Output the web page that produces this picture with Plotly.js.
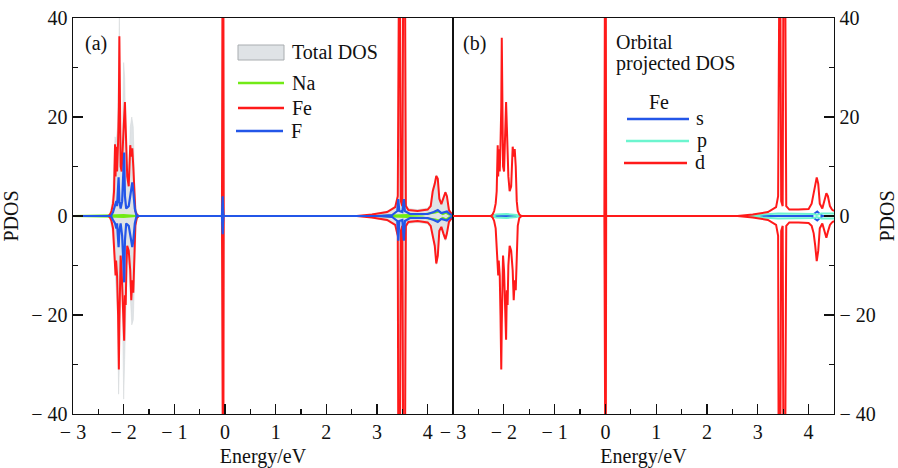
<!DOCTYPE html>
<html>
<head>
<meta charset="utf-8">
<script src="https://cdn.plot.ly/plotly-3.0.1.min.js"></script>
<style>html,body{margin:0;padding:0;background:#fff}</style>
</head>
<body>
<div id="chart" style="width:898px;height:468px"></div>
<script>
// ---- Panel (a): total and atom-projected DOS (spin up > 0, spin down < 0) ----
const totE  = [-3.00,-2.30,-2.27,-2.22,-2.17,-2.15,-2.12,-2.10,-2.085,-2.07,-2.05,-2.02,-2.00,-1.98,-1.96,-1.93,-1.90,-1.87,-1.84,-1.81,-1.78,-1.75,-1.70,-0.06,-0.045,-0.035,-0.02,2.60,2.90,3.20,3.36,3.41,3.425,3.445,3.47,3.50,3.525,3.545,3.57,3.62,3.80,4.00,4.06,4.10,4.14,4.17,4.20,4.23,4.27,4.31,4.35,4.38,4.42,4.46,4.50];
const totUp = [0,0,0.5,3.5,16,15,18,28,40,20,13,19,31,28,17,9,9,18,20,18,5,1,0,0,70,70,0,0,0.4,1.0,2.0,4.5,70,70,3.5,2.5,70,70,2.5,1.5,1.3,1.6,2.5,5.5,7,8.3,7.8,4,2.8,4,5,4.3,1.5,0.8,0.7];
const totDn = [0,0,-0.5,-3.5,-11,-14,-20,-36,-30,-14,-11,-21,-37,-29,-21,-9,-10,-17,-22,-21,-9,-1,0,0,-70,-70,0,0,-0.4,-1.0,-2.0,-4.5,-70,-70,-3.5,-2.5,-70,-70,-2.5,-1.5,-1.3,-1.6,-2.5,-4.5,-6.5,-9.8,-8.3,-3.5,-2.6,-4,-5,-4,-1.5,-0.8,-0.7];

const naE  = [-3.00,-2.25,-2.15,-2.00,-1.85,-1.75,3.00,3.45,3.90,4.15,4.22,4.30,4.36,4.42,4.50];
const naUp = [0,0,0.15,0.2,0.15,0,0,0.2,0.3,0.7,0.9,0.4,0.7,0.3,0.2];
const naDn = [0,0,-0.15,-0.2,-0.15,0,0,-0.2,-0.3,-0.7,-0.9,-0.4,-0.7,-0.3,-0.2];

const feE  = [-3.00,-2.30,-2.27,-2.24,-2.21,-2.19,-2.17,-2.16,-2.15,-2.13,-2.11,-2.095,-2.085,-2.075,-2.06,-2.04,-2.02,-1.99,-1.975,-1.96,-1.945,-1.93,-1.90,-1.87,-1.85,-1.83,-1.81,-1.79,-1.77,-1.74,-1.70,-0.06,-0.055,-0.045,-0.035,-0.025,2.60,2.90,3.20,3.36,3.41,3.425,3.445,3.47,3.50,3.525,3.545,3.57,3.62,3.80,4.00,4.06,4.10,4.14,4.17,4.20,4.23,4.27,4.31,4.35,4.38,4.42,4.46,4.50];
const feUp = [0,0,0.3,1.0,2.5,5,14.5,8,14,9,15,22,36.3,14,10,9,15,20,23,18,12,8,6,14.3,12,13.7,10,3,1,0.3,0,0,45,70,70,0,0,0.3,0.8,1.8,4,70,70,3,2,70,70,2,1.2,1.0,1.3,2,5,6.5,8.1,7.5,3.5,2.4,3.5,4.8,4,1.2,0.6,0.5];
const feDn = [0,0,-0.3,-1.0,-2.5,-5.5,-9,-12,-9,-12,-20,-31,-22,-10,-8,-11,-17,-25.2,-16,-18,-10,-6,-7,-11,-17,-13,-15.5,-8,-2,-0.4,0,0,-32.5,-70,-70,0,0,-0.3,-0.8,-1.8,-4,-70,-70,-3,-2,-70,-70,-2,-1.2,-1.0,-1.3,-2,-4,-6,-9.6,-8,-3,-2.2,-3.5,-4.7,-3.5,-1.2,-0.6,-0.5];

const fE  = [-3.00,-2.25,-2.21,-2.17,-2.145,-2.13,-2.115,-2.10,-2.085,-2.06,-2.03,-2.005,-1.99,-1.975,-1.95,-1.90,-1.86,-1.83,-1.81,-1.78,-1.75,-1.72,-0.06,-0.05,-0.045,-0.04,-0.03,3.00,3.30,3.40,3.42,3.44,3.50,3.53,3.55,3.65,4.00,4.12,4.20,4.27,4.33,4.38,4.45,4.50];
const fUp = [0,0,0.8,2,3,2,4,7.8,3,1.5,3,9,12.8,4,1.5,2,5,6.8,5,1.5,0.2,0,0,1.5,4,1.5,0,0,0.2,1,3.4,1,0.8,3.4,1,0.4,0.4,0.8,1.2,0.6,0.8,0.9,0.3,0.2];
const fDn = [0,0,-0.8,-1.5,-2.5,-1.5,-4,-6.3,-3,-1.5,-4,-10,-13.4,-5,-1.5,-2,-5,-6.3,-5,-1.5,-0.2,0,0,-1.5,-3.7,-1.5,0,0,-0.2,-1,-5,-1,-0.8,-5,-1,-0.4,-0.4,-0.8,-1.2,-0.6,-0.8,-0.9,-0.3,-0.2];

// ---- Panel (b): Fe orbital-projected DOS ----
const sE  = [-3.00,4.05,4.13,4.17,4.21,4.28,4.50];
const sUp = [0,0,0.6,0.9,0.5,0,0];
const sDn = [0,0,-0.6,-0.9,-0.5,0,0];

const pE  = [-3.00,-2.25,-2.15,-1.95,-1.75,-1.70,2.90,3.10,3.40,3.80,4.10,4.16,4.25,4.50];
const pUp = [0,0,0.3,0.4,0.2,0,0,0.3,0.5,0.5,0.4,0.2,0.5,0.5];
const pDn = [0,0,-0.3,-0.4,-0.2,0,0,-0.3,-0.5,-0.5,-0.4,-0.2,-0.5,-0.5];

const dE  = [-3.00,-2.26,-2.22,-2.19,-2.16,-2.14,-2.12,-2.11,-2.10,-2.08,-2.065,-2.05,-2.04,-2.03,-2.015,-1.995,-1.975,-1.955,-1.94,-1.925,-1.91,-1.885,-1.855,-1.825,-1.805,-1.785,-1.765,-1.745,-1.725,-1.695,-1.65,-0.02,-0.015,-0.005,0.005,0.015,2.60,2.90,3.20,3.36,3.40,3.415,3.435,3.46,3.49,3.51,3.53,3.56,3.62,3.80,4.00,4.06,4.10,4.13,4.16,4.19,4.22,4.27,4.31,4.35,4.38,4.42,4.46,4.50];
const dUp = [0,0,0.3,1.0,2.5,5,14.3,8,13.5,9,14.5,22,36,14,10,9,15,23,18,12,8,5,6,14,12,13.5,10,3,1,0.3,0,0,45,70,70,0,0,0.3,0.8,1.8,4,70,70,3,2,70,70,2,1.3,1.3,1.4,2.5,4.5,6.5,7.8,6.5,2.5,1.5,3,4.6,4,2,1.3,1.0];
const dDn = [0,0,-0.3,-1.0,-2.5,-5.5,-9,-12,-9,-12,-20,-31,-22,-10,-8,-11,-17,-25,-15,-18,-10,-6,-7,-11,-17,-13,-15,-8,-2,-0.4,0,0,-32.5,-70,-70,0,0,-0.3,-0.8,-1.8,-4,-70,-70,-3,-2,-70,-70,-2,-1.3,-1.3,-1.4,-2,-3.5,-6,-9.1,-7,-2.5,-1.5,-2.8,-4.4,-3.2,-1.8,-1.3,-1.0];

// axis ticks
const xTickVals = [-3,-2,-1,0,1,2,3,4];
const xTickText = ['\u2212 3','\u2212 2','\u2212 1','0','1','2','3','4'];
const yTickVals = [-40,-20,0,20,40];
const yTickText = ['\u2212 40','\u2212 20','0','20','40'];

// legend entries
const legendA = ['Total DOS', 'Na', 'Fe', 'F'];
const legendB = ['s', 'p', 'd'];

const FONT = 'Liberation Serif, Times New Roman, serif';
const FS = 20;
const INK = '#111';
const RED = '#ff1a1a', BLUE = '#2356e8', GREEN = '#72ea16', CYAN = '#6cf5cf';
const GREY_FILL = '#dfe3e6', GREY_LINE = '#d0d4d7';

function line(x, y, color, width, ax, extra) {
  return Object.assign({type: 'scatter', mode: 'lines', x: x, y: y, showlegend: false,
    line: {color: color, width: width}, xaxis: ax[0], yaxis: ax[1], hoverinfo: 'skip'}, extra || {});
}
const A = ['x', 'y'], B = ['x2', 'y2'];

const traces = [
  line(totE, totUp, GREY_LINE, 0.5, A, {fill: 'tozeroy', fillcolor: GREY_FILL, name: legendA[0]}),
  line(totE, totDn, GREY_LINE, 0.5, A, {fill: 'tozeroy', fillcolor: GREY_FILL, name: legendA[0]}),
  line(naE, naUp, GREEN, 2, A, {name: legendA[1]}),
  line(naE, naDn, GREEN, 2, A, {name: legendA[1]}),
  line(feE, feUp, RED, 2, A, {name: legendA[2]}),
  line(feE, feDn, RED, 2, A, {name: legendA[2]}),
  line(fE, fUp, BLUE, 2.2, A, {name: legendA[3]}),
  line(fE, fDn, BLUE, 2.2, A, {name: legendA[3]}),

  line(sE, sUp, BLUE, 2, B, {name: legendB[0]}),
  line(sE, sDn, BLUE, 2, B, {name: legendB[0]}),
  line(pE, pUp, CYAN, 2, B, {name: legendB[1]}),
  line(pE, pDn, CYAN, 2, B, {name: legendB[1]}),
  line(dE, dUp, RED, 2, B, {name: legendB[2]}),
  line(dE, dDn, RED, 2, B, {name: legendB[2]})
];

const xCommon = {
  range: [-3, 4.5], tickvals: xTickVals, ticktext: xTickText,
  ticks: 'inside', ticklen: 10, tickwidth: 1.3, tickcolor: INK,
  minor: {dtick: 0.5, tick0: 0, ticks: 'inside', ticklen: 5, tickwidth: 1.2, tickcolor: INK},
  showline: true, linecolor: INK, linewidth: 1.4, mirror: true,
  showgrid: false, zeroline: false,
  tickfont: {family: FONT, size: FS, color: INK},
  title: {text: 'Energy/eV', font: {family: FONT, size: FS, color: INK}, standoff: 10}
};
const yCommon = {
  range: [-40, 40], tickvals: yTickVals, ticktext: yTickText,
  ticks: 'inside', ticklen: 10, tickwidth: 1.3, tickcolor: INK,
  minor: {dtick: 10, tick0: 0, ticks: 'inside', ticklen: 5, tickwidth: 1.2, tickcolor: INK},
  showline: true, linecolor: INK, linewidth: 1.4, mirror: true,
  showgrid: false, zeroline: false,
  tickfont: {family: FONT, size: FS, color: INK},
  title: {text: 'PDOS', font: {family: FONT, size: FS, color: INK}, standoff: 8}
};

// page pixel -> paper fraction (plot area spans x 73..834, y 18..414)
const PX = x => (x - 73) / 761;
const PY = y => 1 - (y - 18) / 396;

function swatch(x0, x1, y, color) {
  return {type: 'line', xref: 'paper', yref: 'paper', x0: PX(x0), x1: PX(x1), y0: PY(y), y1: PY(y),
    line: {color: color, width: 2.5}};
}
function label(text, x, y, anchor) {
  return {text: text, xref: 'paper', yref: 'paper', x: PX(x), y: PY(y), xanchor: anchor || 'left',
    yanchor: 'middle', showarrow: false, font: {family: FONT, size: FS, color: INK}};
}

const shapes = [
  {type: 'rect', xref: 'paper', yref: 'paper', x0: PX(238), x1: PX(284), y0: PY(60), y1: PY(45),
    fillcolor: GREY_FILL, line: {color: '#a9adb0', width: 1}},
  swatch(238, 284, 83, GREEN),
  swatch(238, 284, 108, RED),
  swatch(236, 283, 131, BLUE),
  swatch(627, 689, 119, BLUE),
  swatch(626, 689, 141, CYAN),
  swatch(624, 687, 163, RED)
];

const annotations = [
  label('(a)', 96, 43, 'center'),
  label('(b)', 474, 43, 'center'),
  label(legendA[0], 290, 52),
  label(legendA[1], 290, 83),
  label(legendA[2], 290, 108),
  label(legendA[3], 289, 131),
  label('Orbital', 614, 42),
  label('projected DOS', 614, 64),
  label('Fe', 659, 102, 'center'),
  label(legendB[0], 694, 118),
  label(legendB[1], 695, 140),
  label(legendB[2], 693, 162)
];

const split = 380 / 761;
const layout = {
  width: 898, height: 468,
  margin: {l: 73, r: 64, t: 18, b: 54},
  paper_bgcolor: '#fff', plot_bgcolor: '#fff',
  font: {family: FONT, size: FS, color: INK},
  showlegend: false,
  xaxis: Object.assign({}, xCommon, {domain: [0, split], anchor: 'y'}),
  yaxis: Object.assign({}, yCommon, {anchor: 'x', side: 'left'}),
  xaxis2: Object.assign({}, xCommon, {domain: [split, 1], anchor: 'y2'}),
  yaxis2: Object.assign({}, yCommon, {anchor: 'x2', side: 'right'}),
  shapes: shapes,
  annotations: annotations
};

Plotly.newPlot('chart', traces, layout, {displayModeBar: false, staticPlot: true});
</script>
</body>
</html>
